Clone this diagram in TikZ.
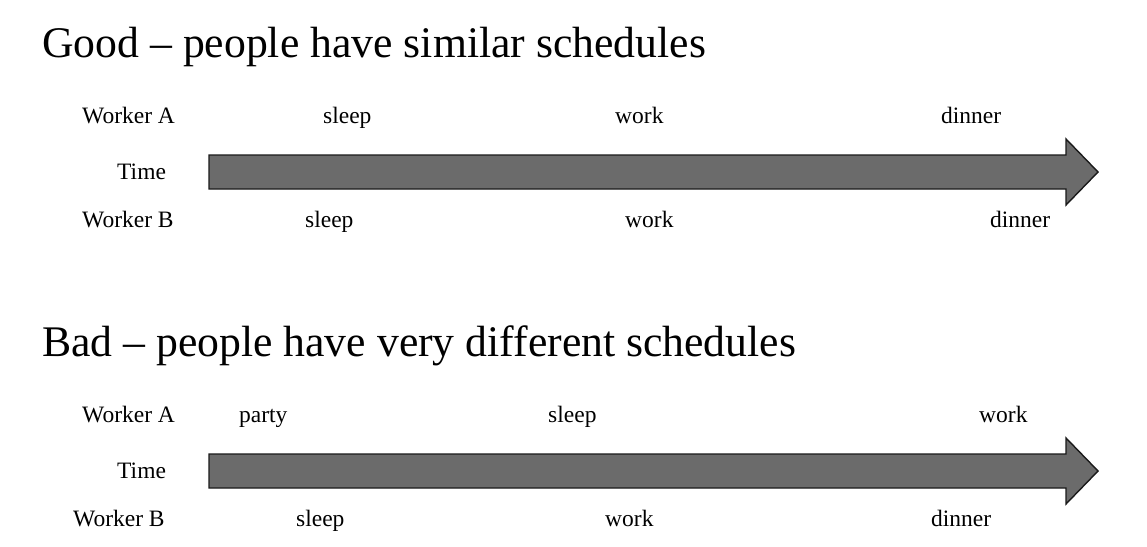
\documentclass[tikz,border=0pt]{standalone}
\usepackage{fontspec}
\setmainfont{Liberation Serif}
\definecolor{arrowgray}{HTML}{6B6B6B}
\definecolor{arrowline}{HTML}{1A1A1A}
\tikzset{
  lbl/.style={anchor=base west, inner sep=0pt, font=\fontsize{23.5}{28}\selectfont},
  ttl/.style={anchor=base west, inner sep=0pt, font=\fontsize{43.7}{52}\selectfont},
  timearrow/.style={fill=arrowgray, draw=arrowline, line width=1.4pt, line join=miter}
}
\begin{document}
\begin{tikzpicture}[x=1pt,y=-1pt]
\fill[white] (0,0) rectangle (1147,546);
\useasboundingbox (0,0) rectangle (1147,546);
% ---------- Good ----------
\node[ttl] (t1) at (42,57) {Good – people have similar schedules};
\node[lbl] (g-wa) at (82,123) {Worker A};
\node[lbl] (g-a1) at (323,123) {sleep};
\node[lbl] (g-a2) at (615,123) {work};
\node[lbl] (g-a3) at (941,123) {dinner};
\node[lbl] (g-time) at (117,179) {Time};
\node[lbl] (g-wb) at (82,227) {Worker B};
\node[lbl] (g-b1) at (305,227) {sleep};
\node[lbl] (g-b2) at (625,227) {work};
\node[lbl] (g-b3) at (990,227) {dinner};
\draw[timearrow] (209,155) -- (1066,155) -- (1066,139) -- (1098,172) -- (1066,205) -- (1066,189) -- (209,189) -- cycle;
% ---------- Bad ----------
\node[ttl] (t2) at (42,356) {Bad – people have very different schedules};
\node[lbl] (b-wa) at (82,422) {Worker A};
\node[lbl] (b-a1) at (239,422) {party};
\node[lbl] (b-a2) at (548,422) {sleep};
\node[lbl] (b-a3) at (979,422) {work};
\node[lbl] (b-time) at (117,478) {Time};
\node[lbl] (b-wb) at (73,526) {Worker B};
\node[lbl] (b-b1) at (296,526) {sleep};
\node[lbl] (b-b2) at (605,526) {work};
\node[lbl] (b-b3) at (931,526) {dinner};
\draw[timearrow] (209,454) -- (1066,454) -- (1066,438) -- (1098,471) -- (1066,504) -- (1066,488) -- (209,488) -- cycle;
\end{tikzpicture}
\end{document}
